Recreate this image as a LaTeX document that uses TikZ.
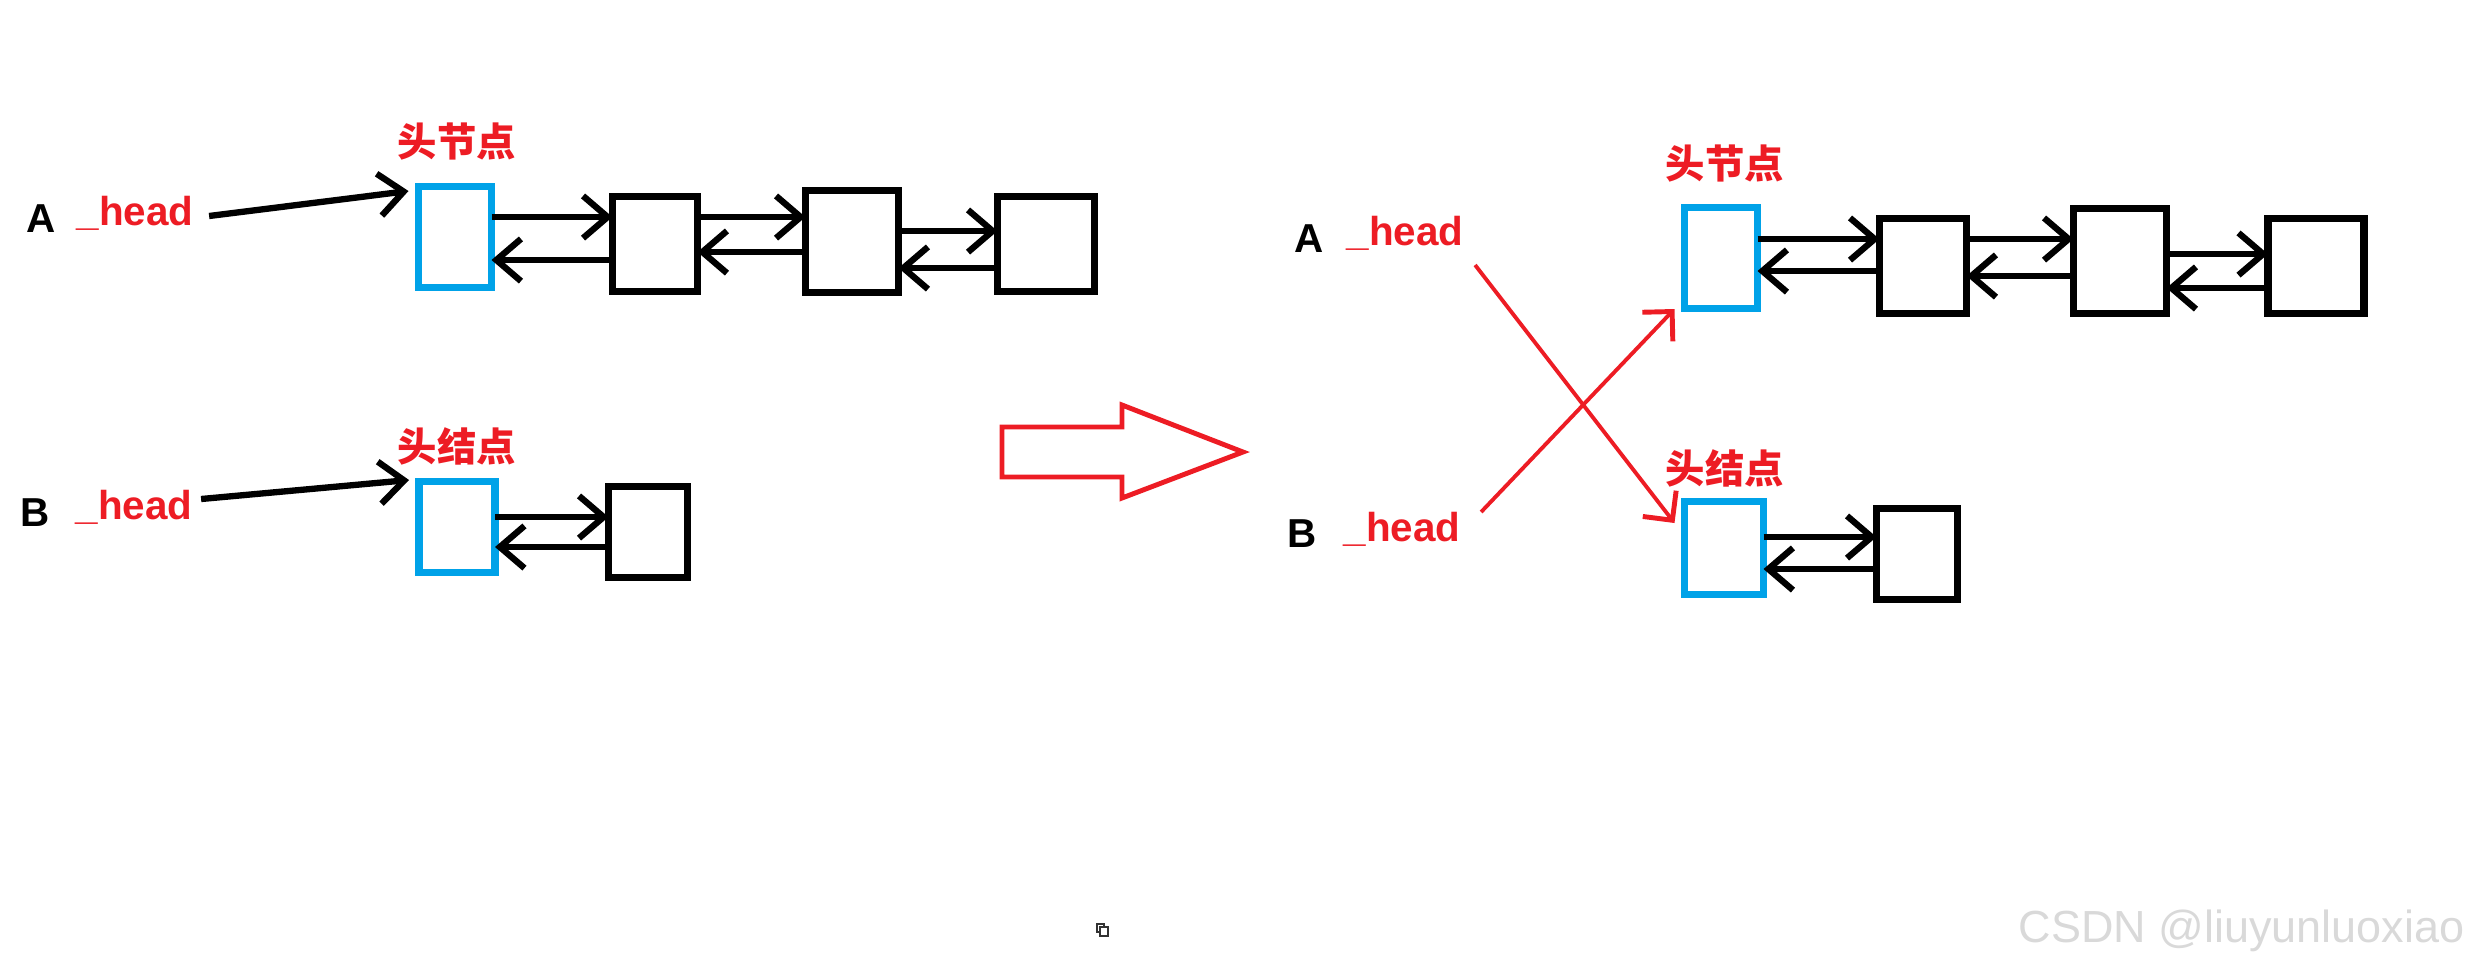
\documentclass[tikz,border=0pt]{standalone}
\usepackage{fontspec}
\setmainfont{Liberation Sans}
\newfontfamily\cjk{Noto Sans CJK SC}
\usetikzlibrary{arrows.meta}
\definecolor{pred}{RGB}{237,28,36}
\definecolor{pblue}{RGB}{0,162,232}

\begin{document}
\begin{tikzpicture}[x=0.1mm,y=-0.1mm,
listnode/.style={draw,line width=2pt,inner sep=0pt,outer sep=0pt},
headnode/.style={listnode,draw=pblue},
link/.style={line width=1.8pt,-{Straight Barb[length=7pt,width=12pt,line width=1.8pt]}},
cross/.style={pred,line width=1.1pt,-{Straight Barb[length=6pt,width=12pt,line width=1.4pt]}},
lbl/.style={inner sep=0pt,font=\fontsize{11.5}{13}\selectfont\bfseries},
headlbl/.style={inner sep=0pt,text=pred,font=\fontsize{11.2}{13}\selectfont\cjk\bfseries}
]
\useasboundingbox (0,0) rectangle (2470,965);

% blue head nodes
\foreach \n/\x/\y/\w/\h in {a1/455/237/73/101, b1/457/527/76/91, ra1/1721/258/73/101, rb1/1724/548/79/93}
{
\node[headnode,minimum width=\w*0.1mm,minimum height=\h*0.1mm] (\n) at (\x,\y) {};
}
% black nodes
\foreach \n/\x/\y/\w/\h in {a2/655/244/85/95, a3/852/241/93/102, a4/1046/244/97/95, b2/648/532/79/91,
ra2/1923/266/87/95, ra3/2120/261/93/105, ra4/2316/266/96/95, rb2/1917/554/81/91}
{
\node[listnode,minimum width=\w*0.1mm,minimum height=\h*0.1mm] (\n) at (\x,\y) {};
}
% next / prev links
\foreach \p/\q/\f/\b in {a1/a2/217/260, a2/a3/217/252, a3/a4/231/268, b1/b2/517/547,
ra1/ra2/239/271, ra2/ra3/239/276, ra3/ra4/254/288, rb1/rb2/537/569}
{
\draw[link] (\p.east |- 0,\f) -- (\q.west |- 0,\f);
\draw[link] (\q.west |- 0,\b) -- (\p.east |- 0,\b);
}

% labels, left
\node[headlbl] (cA) at (457,142) {头节点};
\node[lbl] (tA) at (41,219) {A};
\node[lbl,text=pred] (hA) at (135,213) {\_head};
\node[headlbl] (cB) at (457,446) {头结点};
\node[lbl] (tB) at (35,513) {B};
\node[lbl,text=pred] (hB) at (134,507) {\_head};
\draw[link] ([xshift=1.5mm,yshift=-0.3mm]hA.east) -- ([xshift=-1mm,yshift=4.6mm]a1.west);
\draw[link] ([xshift=0.8mm,yshift=0.8mm]hB.east) -- ([xshift=-1mm,yshift=4.7mm]b1.west);

% labels, right
\node[headlbl] (rcA) at (1725,164) {头节点};
\node[lbl] (rtA) at (1309,239) {A};
\node[lbl,text=pred] (rhA) at (1405,233) {\_head};
\node[headlbl] (rcB) at (1725,468) {头结点};
\node[lbl] (rtB) at (1302,534) {B};
\node[lbl,text=pred] (rhB) at (1402,529) {\_head};
\draw[cross] ([xshift=1.1mm,yshift=-3.2mm]rhA.east) -- ([xshift=-1mm,yshift=2.5mm]rb1.west);
\draw[cross] ([xshift=2mm,yshift=1.7mm]rhB.east) -- ([xshift=-1mm,yshift=-5.1mm]ra1.west);

% big arrow
\draw[pred,line width=1.4pt] (1002,427) -- (1122,427) -- (1122,405) -- (1243,452) -- (1122,498) -- (1122,477) -- (1002,477) -- cycle;

\draw[black!80,line width=0.4pt] (1097,924) rectangle (1104,932);
\draw[black!80,line width=0.4pt,fill=white] (1100,927) rectangle (1108,936);
\node[anchor=base west,inner sep=0pt,text=black!15,font=\fontsize{12.8}{14}\selectfont] (wm) at (2018,942) {CSDN @liuyunluoxiao};
\end{tikzpicture}
\end{document}
